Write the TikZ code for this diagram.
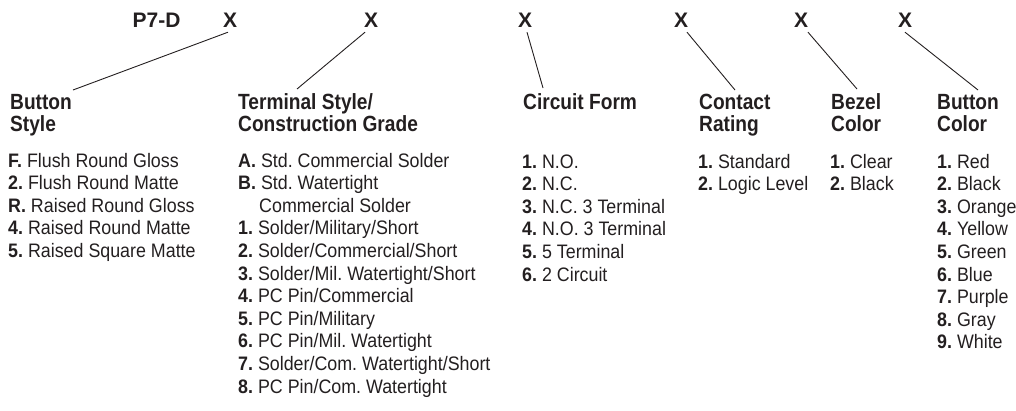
\documentclass[tikz,border=0pt]{standalone}
\usepackage{fontspec}
\setmainfont{Liberation Sans}[FakeStretch=0.87]
\newfontfamily\topfont{Liberation Sans}
\newfontfamily\bodyfont{Liberation Sans}[FakeStretch=0.915]
\definecolor{ink}{RGB}{35,31,32}
\frenchspacing
\begin{document}
\begin{tikzpicture}[x=1pt,y=-1pt,
  hd/.style={font=\fontsize{22}{22.5}\selectfont\bfseries, text=ink, anchor=base west, inner sep=0, align=left},
  code/.style={font=\topfont\fontsize{21}{22}\selectfont\bfseries, text=ink, anchor=base, inner sep=0},
  lst/.style={font=\bodyfont\fontsize{19.5}{22.6}\selectfont, text=ink, anchor=base west, inner sep=0, align=left},
  ln/.style={draw=ink, line width=0.9pt}]
\useasboundingbox (0,0) rectangle (1016,410);
\node[code] (p) at (156.5,27) {P7-D};
\node[code] (x1) at (230,27) {X};
\node[code] (x2) at (371,27) {X};
\node[code] (x3) at (525,27) {X};
\node[code] (x4) at (681,27) {X};
\node[code] (x5) at (801,27) {X};
\node[code] (x6) at (905,27) {X};

\node[hd] (h1) at (10,131.5) {Button\\Style};
\node[hd] (h2) at (238,131.5) {Terminal Style/\\Construction Grade};
\node[hd] (h3) at (523,109) {Circuit Form};
\node[hd] (h4) at (699,131.5) {Contact\\Rating};
\node[hd] (h5) at (831,131.5) {Bezel\\Color};
\node[hd] (h6) at (937,131.5) {Button\\Color};

\coordinate (e1) at (73,90);
\coordinate (e2) at (297,89);
\coordinate (e3) at (543,88);
\coordinate (e4) at (735,90);
\coordinate (e5) at (857,89);
\coordinate (e6) at (978,90);
\draw[ln] ([shift={(-2,5)}]x1.south) -- (e1);
\draw[ln] ([shift={(-6,5)}]x2.south) -- (e2);
\draw[ln] ([shift={(2,5)}]x3.south) -- (e3);
\draw[ln] ([shift={(6,5)}]x4.south) -- (e4);
\draw[ln] ([shift={(7,5)}]x5.south) -- (e5);
\draw[ln] ([shift={(0,5)}]x6.south) -- (e6);

\node[lst] (l1) at (8,257.4) {\textbf{F.} Flush Round Gloss\\\textbf{2.} Flush Round Matte\\\textbf{R.} Raised Round Gloss\\\textbf{4.} Raised Round Matte\\\textbf{5.} Raised Square Matte};
\node[lst] (l2) at (238,393) {\textbf{A.} Std. Commercial Solder\\\textbf{B.} Std. Watertight\\\hspace*{21pt}Commercial Solder\\\textbf{1.} Solder/Military/Short\\\textbf{2.} Solder/Commercial/Short\\\textbf{3.} Solder/Mil. Watertight/Short\\\textbf{4.} PC Pin/Commercial\\\textbf{5.} PC Pin/Military\\\textbf{6.} PC Pin/Mil. Watertight\\\textbf{7.} Solder/Com. Watertight/Short\\\textbf{8.} PC Pin/Com. Watertight};
\node[lst] (l3) at (522,281) {\textbf{1.} N.O.\\\textbf{2.} N.C.\\\textbf{3.} N.C. 3 Terminal\\\textbf{4.} N.O. 3 Terminal\\\textbf{5.} 5 Terminal\\\textbf{6.} 2 Circuit};
\node[lst] (l4) at (698,190.6) {\textbf{1.} Standard\\\textbf{2.} Logic Level};
\node[lst] (l5) at (830,190.6) {\textbf{1.} Clear\\\textbf{2.} Black};
\node[lst] (l6) at (937,348.8) {\textbf{1.} Red\\\textbf{2.} Black\\\textbf{3.} Orange\\\textbf{4.} Yellow\\\textbf{5.} Green\\\textbf{6.} Blue\\\textbf{7.} Purple\\\textbf{8.} Gray\\\textbf{9.} White};
\end{tikzpicture}
\end{document}
